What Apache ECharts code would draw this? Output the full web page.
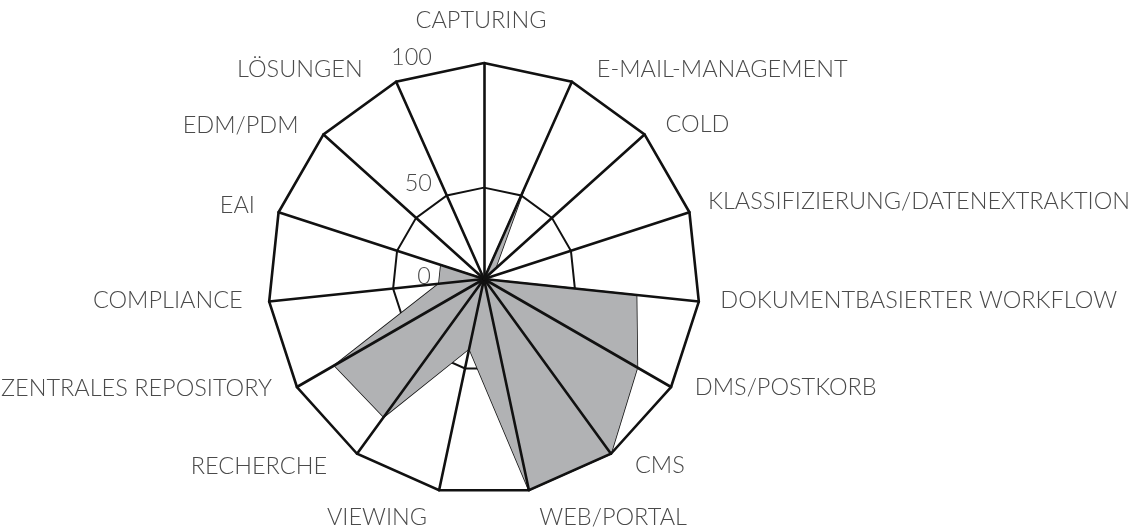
<!DOCTYPE html>
<html><head><meta charset="utf-8">
<script src="https://cdn.jsdelivr.net/npm/echarts@6/dist/echarts.min.js"></script>
<style>html,body{margin:0;padding:0;background:#fff}#c{width:1128px;height:531px}</style>
</head><body><div id="c"></div>
<script>
// ---- data (clockwise from top) ----
const categories = ['CAPTURING','E-MAIL-MANAGEMENT','COLD','KLASSIFIZIERUNG/DATENEXTRAKTION','DOKUMENTBASIERTER WORKFLOW','DMS/POSTKORB','CMS','WEB/PORTAL','VIEWING','RECHERCHE','ZENTRALES REPOSITORY','COMPLIANCE','EAI','EDM/PDM','LÖSUNGEN'];
const values = [0, 46, 7, 0, 71, 82, 100, 100, 33, 79, 80, 21, 21, 0, 0];
const scaleLabels = ['0', '50', '100'];
const scaleMin = 0, scaleMax = 100;

// ---- styling ----
const CX = 484, CY = 279, R = 216;
const FONT = {fontFamily: 'Lato', fontWeight: 300, fontSize: 23.5, color: '#4a4a4a'};
// label shifts [dx, dy] from the axis end (styling only)
const labelShift = [[-3,-43],[25,-12],[21,-10.5],[18.6,-10.6],[21.5,-1],[23.8,0.5],[24,12],[10.4,27],[-12,27],[-30,13],[-25,1.7],[-26.5,-1],[-23.6,-7],[-25,-9.5],[-33.5,-12]];
const scaleLabelPos = [[431, 276], [432, 183], [432, 57]];

// ECharts radar runs counter-clockwise: reorder so the picture runs clockwise
const order = [0].concat(categories.map((_, i) => i).slice(1).reverse());
const n = categories.length;

function paddingFor(i) {
  const [dx, dy] = labelShift[i];
  const p = [0, 0, 0, 0];
  if (dy > 0) p[0] = 2 * dy; else p[2] = -2 * dy;
  if (i === 0) { if (dx > 0) p[3] = 2 * dx; else p[1] = -2 * dx; }
  else if (i <= (n - 1) / 2) { p[3] = dx; }
  else { p[1] = -dx; }
  return p;
}
const rich = {};
categories.forEach((c, i) => { rich['s' + i] = Object.assign({padding: paddingFor(i)}, FONT); });

const ringCount = 26, ringIdx = 11; // inner ring at 11/26 of the radius
const ringColors = [];
for (let i = 0; i <= ringCount; i++) ringColors.push(i === ringIdx ? '#111' : 'rgba(0,0,0,0)');

const chart = echarts.init(document.getElementById('c'), null, {renderer: 'canvas'});
chart.setOption({
  backgroundColor: '#fff',
  animation: false,
  radar: [
    {
      center: [CX, CY], radius: R, startAngle: 90, shape: 'polygon', z: 1,
      splitNumber: ringCount,
      indicator: order.map(i => ({name: categories[i], min: 0, max: ringCount * 10})),
      axisName: {show: false},
      axisLine: {show: false}, axisTick: {show: false}, axisLabel: {show: false},
      splitArea: {show: false},
      splitLine: {show: true, lineStyle: {color: ringColors, width: 2}}
    },
    {
      center: [CX, CY], radius: R, startAngle: 90, shape: 'polygon', z: 3,
      splitNumber: 1, nameGap: 0,
      indicator: order.map(i => ({name: categories[i], min: scaleMin, max: scaleMax})),
      axisName: Object.assign({
        show: true, verticalAlign: 'middle', rich: rich,
        formatter: function (v) { return '{s' + categories.indexOf(v) + '|' + v + '}'; }
      }, FONT),
      axisLine: {show: true, lineStyle: {color: '#111', width: 2.6}},
      axisTick: {show: false}, axisLabel: {show: false},
      splitArea: {show: false},
      splitLine: {show: true, lineStyle: {color: ['rgba(0,0,0,0)', '#111'], width: 2.6}}
    }
  ],
  series: [{
    type: 'radar', radarIndex: 1, z: 2, symbol: 'none', silent: true,
    lineStyle: {color: '#161616', width: 1.6},
    areaStyle: {color: '#b1b2b4', opacity: 1},
    data: [{value: order.map(i => values[i]), name: 'Bewertung'}]
  }],
  graphic: scaleLabels.map((t, k) => ({
    type: 'text', x: scaleLabelPos[k][0], y: scaleLabelPos[k][1], z: 10,
    style: Object.assign({text: t, align: 'right', verticalAlign: 'middle',
      font: '300 23.5px Lato', fill: FONT.color})
  }))
});
</script></body></html>
